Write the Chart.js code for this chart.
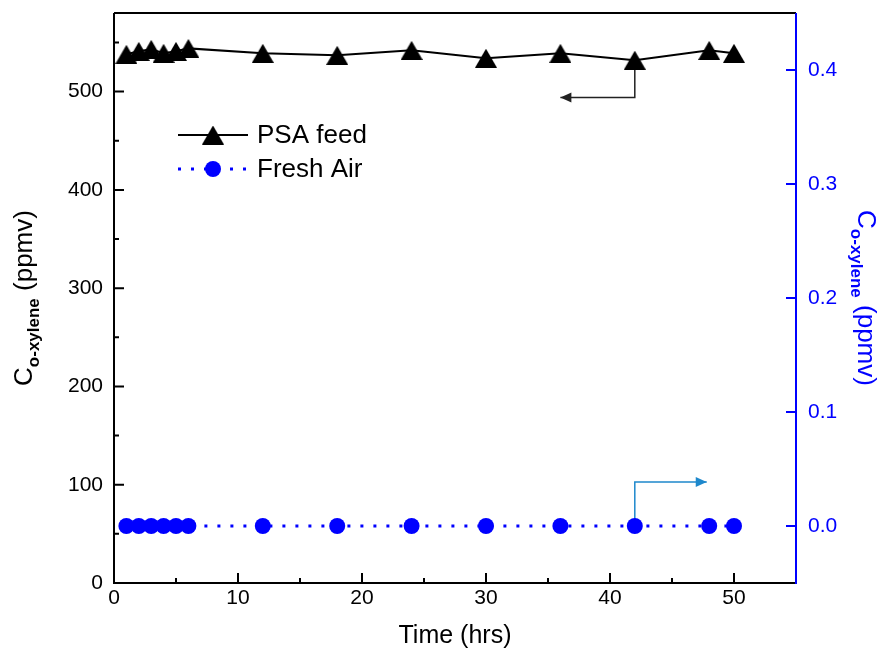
<!DOCTYPE html>
<html>
<head>
<meta charset="utf-8">
<script src="https://cdn.jsdelivr.net/npm/chart.js@4.4.1/dist/chart.umd.min.js"></script>
<style>
  body { margin: 0; background: #fff; }
  #wrap { width: 885px; height: 652px; }
</style>
</head>
<body>
<div id="wrap"><canvas id="myChart" width="885" height="652"></canvas></div>
<script>
// time (hrs) and measured concentrations
const hours = [1, 2, 3, 4, 5, 6, 12, 18, 24, 30, 36, 42, 48, 50];
const psaFeed = [538, 541, 543, 539, 541, 544, 539, 537, 542, 534, 539, 532, 542, 539];   // ppmv, left axis
const freshAir = [0, 0, 0, 0, 0, 0, 0, 0, 0, 0, 0, 0, 0, 0];                               // ppmv, right axis

const xTicks = [0, 10, 20, 30, 40, 50];
const xMinorTicks = [5, 15, 25, 35, 45];
const leftTicks = [0, 100, 200, 300, 400, 500];
const leftMinorTicks = [50, 150, 250, 350, 450, 550];
const rightTicks = [0, 0.1, 0.2, 0.3, 0.4];

// annotation arrows in data units [x, y]
const psaArrow = [[42, 532], [42, 494], [36, 494]];        // left axis
const airArrow = [[42, 0], [42, 0.0385], [47.8, 0.0385]];  // right axis

const FONT = '"Liberation Sans", Arial, sans-serif';
const BLUE = '#0000ff';

// triangle marker, centred on its bounding box
const tri = document.createElement('canvas');
tri.width = 22;
tri.height = 19;
(function() {
    const c = tri.getContext('2d');
    c.fillStyle = '#000';
    c.beginPath();
    c.moveTo(11, 0);
    c.lineTo(22, 19);
    c.lineTo(0, 19);
    c.closePath();
    c.fill();
})();

function drawArrow(ctx, pts, color) {
    ctx.save();
    ctx.strokeStyle = color;
    ctx.fillStyle = color;
    ctx.lineWidth = 1.5;
    ctx.beginPath();
    ctx.moveTo(pts[0][0], pts[0][1]);
    for (let i = 1; i < pts.length; i++) ctx.lineTo(pts[i][0], pts[i][1]);
    ctx.stroke();
    // head at last point
    const [x1, y1] = pts[pts.length - 2];
    const [x2, y2] = pts[pts.length - 1];
    const a = Math.atan2(y2 - y1, x2 - x1);
    ctx.translate(x2, y2);
    ctx.rotate(a);
    ctx.beginPath();
    ctx.moveTo(0, 0);
    ctx.lineTo(-11, -5);
    ctx.lineTo(-11, 5);
    ctx.closePath();
    ctx.fill();
    ctx.restore();
}

function drawAxisTitle(ctx, x, y, rot, color) {
    ctx.save();
    ctx.translate(x, y);
    ctx.rotate(rot);
    ctx.fillStyle = color;
    ctx.textBaseline = 'alphabetic';
    ctx.textAlign = 'left';
    const big = '26px ' + FONT;
    const sub = 'bold 17px ' + FONT;
    ctx.font = big;
    const wC = ctx.measureText('C').width;
    const wRest = ctx.measureText(' (ppmv)').width;
    ctx.font = sub;
    const wSub = ctx.measureText('o-xylene').width;
    let cx = -(wC + wSub + wRest) / 2;
    ctx.font = big;
    ctx.fillText('C', cx, 0);
    cx += wC;
    ctx.font = sub;
    ctx.fillText('o-xylene', cx, 7);
    cx += wSub;
    ctx.font = big;
    ctx.fillText(' (ppmv)', cx, 0);
    ctx.restore();
}

const decorPlugin = {
    id: 'decor',
    beforeDatasetsDraw(chart) {
        const ctx = chart.ctx;
        const x = chart.scales.x, y = chart.scales.y, y2 = chart.scales.y2;
        drawArrow(ctx, psaArrow.map(p => [x.getPixelForValue(p[0]), y.getPixelForValue(p[1])]), '#222');
        drawArrow(ctx, airArrow.map(p => [x.getPixelForValue(p[0]), y2.getPixelForValue(p[1])]), '#1e88cc');
    },
    afterDraw(chart) {
        const ctx = chart.ctx;
        const a = chart.chartArea;
        const x = chart.scales.x, y = chart.scales.y, y2 = chart.scales.y2;
        ctx.save();
        ctx.lineCap = 'butt';

        // frame
        ctx.strokeStyle = '#000';
        ctx.lineWidth = 2;
        ctx.beginPath();
        ctx.moveTo(a.left, a.top);
        ctx.lineTo(a.right, a.top);
        ctx.moveTo(a.left, a.top);
        ctx.lineTo(a.left, a.bottom);
        ctx.lineTo(a.right, a.bottom);
        ctx.stroke();
        ctx.strokeStyle = BLUE;
        ctx.beginPath();
        ctx.moveTo(a.right, a.top);
        ctx.lineTo(a.right, a.bottom + 1);
        ctx.stroke();

        // inward ticks
        ctx.strokeStyle = '#000';
        ctx.beginPath();
        xTicks.forEach(v => { const p = x.getPixelForValue(v); ctx.moveTo(p, a.bottom); ctx.lineTo(p, a.bottom - 10); });
        xMinorTicks.forEach(v => { const p = x.getPixelForValue(v); ctx.moveTo(p, a.bottom); ctx.lineTo(p, a.bottom - 5); });
        leftTicks.forEach(v => { const p = y.getPixelForValue(v); ctx.moveTo(a.left, p); ctx.lineTo(a.left + 10, p); });
        leftMinorTicks.forEach(v => { const p = y.getPixelForValue(v); ctx.moveTo(a.left, p); ctx.lineTo(a.left + 5, p); });
        ctx.stroke();
        ctx.strokeStyle = BLUE;
        ctx.beginPath();
        rightTicks.forEach(v => { const p = y2.getPixelForValue(v); ctx.moveTo(a.right, p); ctx.lineTo(a.right - 10, p); });
        ctx.stroke();

        // axis titles
        ctx.fillStyle = '#000';
        ctx.font = '25px ' + FONT;
        ctx.textAlign = 'center';
        ctx.textBaseline = 'alphabetic';
        ctx.fillText('Time (hrs)', (a.left + a.right) / 2, 643);
        drawAxisTitle(ctx, 32, (a.top + a.bottom) / 2, -Math.PI / 2, '#000');
        drawAxisTitle(ctx, 858, (a.top + a.bottom) / 2, Math.PI / 2, BLUE);

        // legend
        const lx = a.left + 64, ly1 = a.top + 122, ly2 = a.top + 156;
        ctx.strokeStyle = '#000';
        ctx.lineWidth = 2;
        ctx.beginPath();
        ctx.moveTo(lx, ly1);
        ctx.lineTo(lx + 70, ly1);
        ctx.stroke();
        ctx.drawImage(tri, lx + 35 - tri.width / 2, ly1 - tri.height / 2);
        ctx.strokeStyle = BLUE;
        ctx.lineWidth = 3;
        ctx.setLineDash([3, 10]);
        ctx.beginPath();
        ctx.moveTo(lx, ly2);
        ctx.lineTo(lx + 70, ly2);
        ctx.stroke();
        ctx.setLineDash([]);
        ctx.fillStyle = BLUE;
        ctx.beginPath();
        ctx.arc(lx + 35, ly2, 8, 0, Math.PI * 2);
        ctx.fill();
        ctx.fillStyle = '#000';
        ctx.font = '26px ' + FONT;
        ctx.textAlign = 'left';
        ctx.textBaseline = 'middle';
        ctx.fillText('PSA feed', lx + 79, ly1 + 1);
        ctx.fillText('Fresh Air', lx + 79, ly2 + 1);
        ctx.restore();
    }
};

// fixed box sizes, no extra padding for overflowing edge labels
function fixBox(w, h) {
    return s => {
        if (w !== null) s.width = w;
        if (h !== null) s.height = h;
        s.paddingTop = 0;
        s.paddingBottom = 0;
        s.paddingLeft = 0;
        s.paddingRight = 0;
    };
}

const ctx = document.getElementById('myChart').getContext('2d');
new Chart(ctx, {
    type: 'line',
    data: {
        datasets: [{
            label: 'PSA feed',
            data: hours.map((h, i) => ({ x: h, y: psaFeed[i] })),
            yAxisID: 'y',
            borderColor: '#000',
            borderWidth: 2,
            pointStyle: tri,
            pointRadius: 10,
            tension: 0
        }, {
            label: 'Fresh Air',
            data: hours.map((h, i) => ({ x: h, y: freshAir[i] })),
            yAxisID: 'y2',
            borderColor: BLUE,
            borderWidth: 3,
            borderDash: [3, 10],
            pointStyle: 'circle',
            pointRadius: 8,
            pointBackgroundColor: BLUE,
            pointBorderWidth: 0,
            tension: 0
        }]
    },
    options: {
        responsive: false,
        animation: false,
        devicePixelRatio: 1,
        layout: { padding: { top: 13, left: 0, right: 0, bottom: 0 } },
        plugins: {
            legend: { display: false },
            tooltip: { enabled: false }
        },
        scales: {
            x: {
                type: 'linear',
                position: 'bottom',
                min: 0,
                max: 55,
                grid: { display: false, drawTicks: false },
                border: { display: false },
                ticks: { color: '#000', font: { family: FONT, size: 21 }, padding: 3, maxRotation: 0 },
                afterBuildTicks: s => { s.ticks = xTicks.map(v => ({ value: v })); },
                afterFit: fixBox(null, 69)
            },
            y: {
                position: 'left',
                min: 0,
                max: 580,
                grid: { display: false, drawTicks: false },
                border: { display: false },
                ticks: { color: '#000', font: { family: FONT, size: 21 }, padding: 11 },
                afterBuildTicks: s => { s.ticks = leftTicks.map(v => ({ value: v })); },
                afterFit: fixBox(114, null)
            },
            y2: {
                position: 'right',
                min: -0.05,
                max: 0.45,
                grid: { display: false, drawTicks: false },
                border: { display: false },
                ticks: {
                    color: BLUE,
                    font: { family: FONT, size: 21 },
                    padding: 12,
                    callback: v => v.toFixed(1)
                },
                afterBuildTicks: s => { s.ticks = rightTicks.map(v => ({ value: v })); },
                afterFit: fixBox(89, null)
            }
        }
    },
    plugins: [decorPlugin]
});
</script>
</body>
</html>
